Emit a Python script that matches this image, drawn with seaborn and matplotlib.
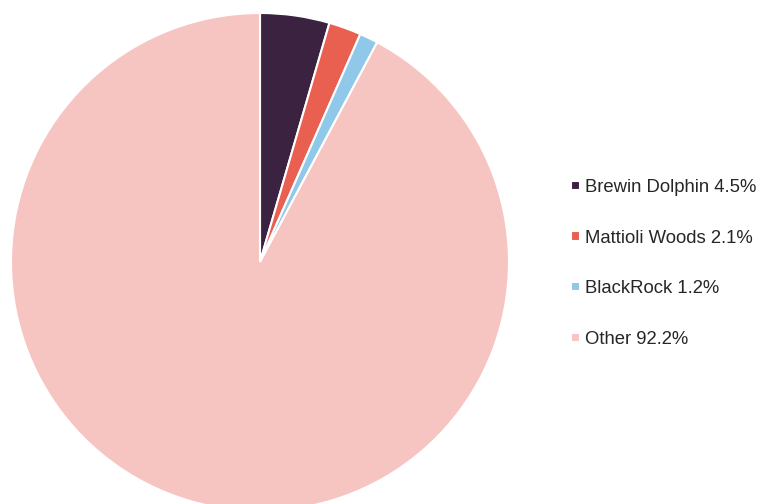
import matplotlib
matplotlib.use("Agg")
import matplotlib.pyplot as plt
import seaborn as sns

holders = ["Brewin Dolphin", "Mattioli Woods", "BlackRock", "Other"]
shares = [4.5, 2.1, 1.2, 92.2]
hex_colors = ["#3b2240", "#e95f50", "#8fc8e9", "#f7c5c1"]

sns.set_theme(style="white")
plt.rcParams['font.family'] = ['Liberation Sans', 'DejaVu Sans']
palette = sns.color_palette(hex_colors)

fig = plt.figure(figsize=(7.6, 5.04), dpi=100)
# pie centre ~ (260, 262) px, radius ~ 249 px
ax = fig.add_axes([11 / 760, -7 / 504, 498 / 760, 498 / 504])
wedges, _ = ax.pie(shares, colors=palette, startangle=90, counterclock=False,
                   radius=1, wedgeprops={'edgecolor': 'white', 'linewidth': 1.5})
ax.set_xlim(-1, 1)
ax.set_ylim(-1, 1)
ax.set_aspect('equal')
ax.axis('off')

labels = [f"{h} {s}%" for h, s in zip(holders, shares)]
fig.legend(wedges, labels, loc='center left', bbox_to_anchor=(571 / 760, 1 - 263.5 / 504),
           frameon=False, fontsize=13.3, handlelength=0.48, handleheight=0.42,
           handletextpad=0.3, labelspacing=1.82, borderpad=0, borderaxespad=0)

fig.savefig("out.png", dpi=100)
